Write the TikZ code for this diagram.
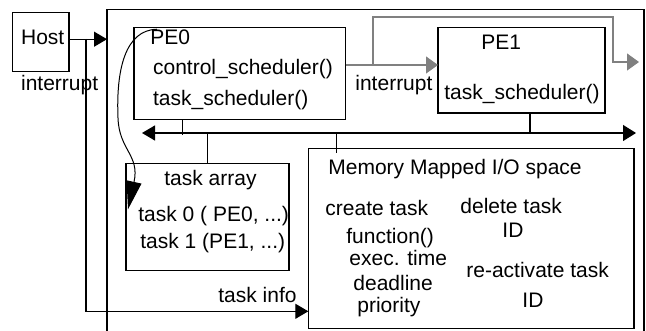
\documentclass[tikz,border=0pt]{standalone}
\usepackage{fontspec}
\setmainfont{Liberation Sans}
\usepackage{tikz}
\usetikzlibrary{
  arrows.meta,
  positioning,
  calc
}
\definecolor{LineBlack}{RGB}{0,0,0}
\definecolor{LineGray}{RGB}{128,128,128}
\tikzset{
  %%── boxes ──────────────────────────────────────────────
  box/.style = {
    rectangle, draw = LineBlack, line width = 0.6pt,
    inner sep = 0pt, outer sep = 0pt
  },
  %%── text labels (base west at given point) ─────────────
  lbl/.style = {
    inner sep = 0pt, anchor = base west,
    font = \fontsize{10.5}{12.6}\selectfont
  },
  %%── connectors ─────────────────────────────────────────
  wire/.style = {line width = 0.6pt, color = LineBlack},
  arr/.style  = {-{Triangle[length=6.5pt, width=7.5pt]}, line width = 0.6pt, color = LineBlack},
  busarr/.style = {{Triangle[length=6.5pt, width=7.5pt]}-{Triangle[length=6.5pt, width=8pt]},
    line width = 0.6pt, color = LineBlack},
  garr/.style = {-{Triangle[length=6pt, width=8.5pt]}, line width = 0.6pt, color = LineGray},
  carr/.style = {-{Triangle[length=14pt, width=7.5pt]}, line width = 0.5pt, color = LineBlack},
}

\begin{document}
\begin{tikzpicture}[x = 0.5pt, y = -0.5pt]

  \useasboundingbox (0,0) rectangle (646,331);
  \clip (0,0) rectangle (646,331);

  %% ── boxes ──────────────────────────────────────────────
  \node[box, minimum width = 28.15pt, minimum height = 29.5pt]  (host)  at (40.85,42.2) {};
  \node[box, minimum width = 268.5pt, minimum height = 165.35pt] (outer) at (375.5,174.65) {};
  \node[box, minimum width = 105.85pt, minimum height = 46pt]   (pe0)   at (239.85,73.3) {};
  \node[box, minimum width = 83.5pt, minimum height = 42.85pt]  (pe1)   at (521.5,70.15) {};
  \node[box, minimum width = 81.5pt, minimum height = 53.7pt]   (tarr)  at (207.5,217) {};
  \node[box, minimum width = 162.85pt, minimum height = 90pt]   (mmio)  at (471.15,238.3) {};

  %% ── labels ─────────────────────────────────────────────
  \node[lbl] (hostlbl) at (20.7,44.3)  {Host};
  \node[lbl] (irq1)    at (20.7,91)    {interrupt};
  \node[lbl] (pe0lbl)  at (150,44.3)   {PE0};
  \node[lbl] (ctrl)    at (152.7,75)   {control\_scheduler()};
  \node[lbl] (tsch0)   at (152.7,106)  {task\_scheduler()};
  \node[lbl] (irq2)    at (355,90.7)   {interrupt};
  \node[lbl] (pe1lbl)  at (481,50)     {PE1};
  \node[lbl] (tsch1)   at (444,100)    {task\_scheduler()};
  \node[lbl] (tarrlbl) at (164,185)    {task array};
  \node[lbl] (task0)   at (138,221.7)  {task 0 ( PE0, ...)};
  \node[lbl] (task1)   at (140,248)    {task 1 (PE1, ...)};
  \node[lbl] (infolbl) at (218,302)    {task info};
  \node[lbl] (mmiolbl) at (328,175)    {Memory Mapped I/O space};
  \node[lbl] (create)  at (325,215)    {create task};
  \node[lbl] (delete)  at (460,213.5)  {delete task};
  \node[lbl] (fn)      at (346,243)    {function()};
  \node[lbl] (id1)     at (502,237)    {ID};
  \node[lbl] (exec)    at (349,265)    {exec. time};
  \node[lbl] (react)   at (466,277)    {re-activate task};
  \node[lbl] (dl)      at (353,290)    {deadline};
  \node[lbl] (id2)     at (522,307)    {ID};
  \node[lbl] (prio)    at (357,312)    {priority};

  %% ── tap points ─────────────────────────────────────────
  \coordinate (tap)   at (86,39);
  \coordinate (gtap)  at (373,65);
  \coordinate (gcor)  at (613,17);
  \coordinate (gout)  at (639,62);
  \coordinate (busL)  at (142,133);
  \coordinate (busR)  at (636,133);
  \coordinate (p1tap) at ([xshift=4.25pt]pe1.south);
  \coordinate (mtap)  at ([xshift=14.2pt]mmio.north west);

  %% ── host → system, task info ───────────────────────────
  \draw[arr] ([yshift=1.5pt]host.east) -- ([yshift=1.5pt]host.east -| outer.west);
  \draw[arr] (tap) |- ([yshift=8.5pt]mmio.south west);

  %% ── PE0 → PE1 interrupt (gray) ─────────────────────────
  \draw[garr] ([yshift=4.15pt]pe0.east) -- ([yshift=4.15pt]pe0.east -| pe1.west);
  \draw[garr] (gtap) |- (gcor) |- (gout);

  %% ── bus and its taps ───────────────────────────────────
  \draw[busarr] (busL) -- (busR);
  \draw[wire] ([xshift=-28.8pt]pe0.south) -- ++(0,16);
  \draw[wire] (p1tap) -- (p1tap |- busL);
  \draw[wire] (tarr.north) -- (tarr.north |- busL);
  \draw[wire] (mtap |- busL) -- ([yshift=-2.2pt]mtap);

  %% ── PE0 → task array (curved) ──────────────────────────
  \draw[carr] ([xshift=3.5pt]pe0lbl.north west)
    .. controls (125,30) and (116,70) .. (118,118)
    .. controls (119,150) and (140,155) .. ([xshift=1pt, yshift=-23pt]tarr.north west);

\end{tikzpicture}
\end{document}
